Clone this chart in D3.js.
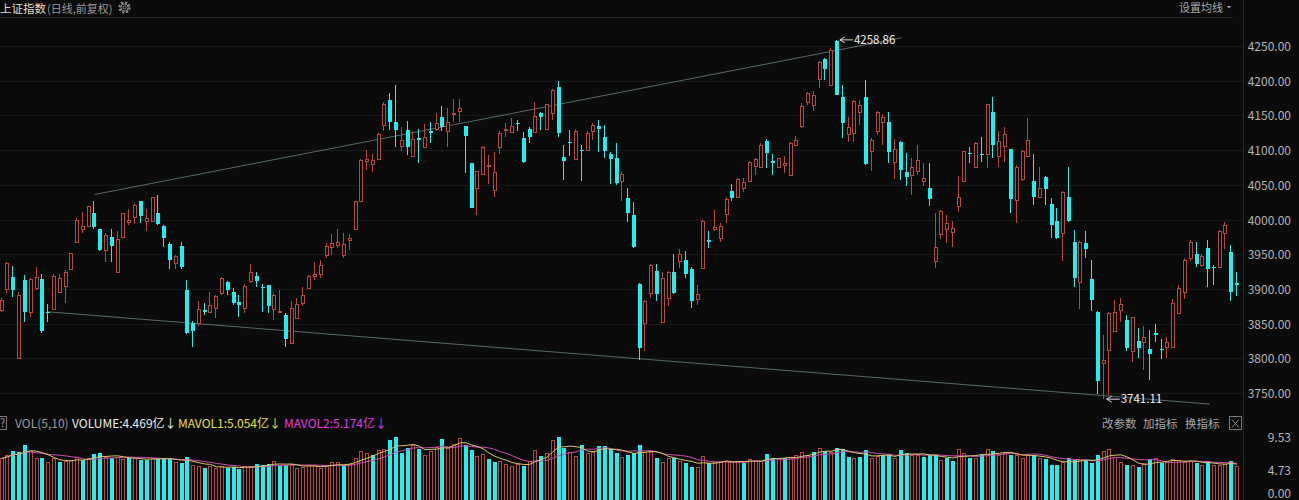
<!DOCTYPE html>
<html>
<head>
<meta charset="utf-8">
<script src="https://cdnjs.cloudflare.com/ajax/libs/d3/7.8.5/d3.min.js"></script>
<style>
	body { margin: 0; background: #0b0b0b; overflow: hidden; }
	svg { display: block; }
	text { font-family: "Noto Sans CJK SC", "Noto Sans", sans-serif; }
</style>
</head>
<body>
<svg id="chart" width="1299" height="500"></svg>
<script>
/**
 * Daily candles of the Shanghai index with volume panel
 */

// Daily prices, oldest first
var opens = [3870,3900,3917,3800,3913,3867,3901,3914,3867,3871,3896,3904,3929,3968,3987,3991,4010,3987,3956,3975,
	3924,3975,3996,4004,4026,3998,3998,4009,3991,3964,3938,3962,3899,3851,3851,3869,3867,3872,3894,3910,
	3895,3881,3872,3911,3918,3903,3905,3871,3866,3863,3822,3858,3879,3901,3918,3922,3949,3961,3963,3949,
	3971,3987,4027,4084,4080,4087,4136,4172,4140,4106,4129,4092,4118,4105,4128,4131,4147,4127,4152,4157,
	4135,4082,4045,4065,4077,4042,4105,4130,4126,4139,4118,4131,4126,4153,4131,4153,4191,4090,4112,4087,
	4100,4100,4127,4135,4119,4094,4088,4055,4031,4007,3907,3851,3894,3926,3853,3887,3925,3940,3942,3929,
	3885,3930,3970,3987,3973,4008,4041,4032,4046,4055,4077,4076,4113,4084,4076,4079,4064,4108,4135,4170,
	4165,4203,4231,4194,4257,4176,4123,4124,4155,4177,4098,4127,4140,4141,4083,4112,4069,4064,4070,4056,
	4046,3940,3979,3987,3982,4019,4055,4096,4076,4095,4095,4155,4091,4106,4101,4028,4058,4092,4056,4033,
	4061,4022,3998,3980,4033,3968,3910,3966,3914,3866,3793,3812,3840,3870,3855,3810,3825,3824,3813,3836,
	3814,3817,3817,3865,3896,3944,3951,3934,3959,3932,3931,3981,3953,3908];

var highs = [3887,3939,3933,3896,3920,3915,3932,3921,3878,3921,3921,3927,3952,4002,4011,4020,4027,3987,3980,3987,
	3983,4010,4015,4022,4027,4015,4033,4035,3992,3968,3949,3968,3913,3854,3882,3880,3896,3891,3917,3911,
	3902,3891,3907,3936,3924,3907,3906,3894,3898,3865,3882,3887,3903,3920,3939,3942,3966,3979,3986,3980,
	3979,4027,4087,4100,4095,4124,4170,4182,4194,4134,4142,4127,4131,4137,4141,4154,4163,4161,4174,4174,
	4135,4082,4070,4106,4093,4097,4127,4139,4146,4143,4126,4134,4170,4155,4167,4188,4200,4107,4129,4131,
	4107,4127,4139,4143,4136,4097,4110,4069,4045,4025,3908,3884,3936,3936,3924,3926,3951,3957,3954,3931,
	3905,3999,3983,4014,3995,4032,4051,4060,4060,4084,4089,4110,4116,4094,4089,4091,4111,4120,4168,4183,
	4185,4228,4233,4247,4258.86,4194,4148,4172,4172,4201,4118,4156,4152,4155,4116,4113,4096,4088,4108,4081,
	4081,4010,4014,4007,3998,4062,4099,4105,4112,4119,4167,4177,4127,4134,4101,4079,4100,4146,4095,4076,
	4063,4031,4017,4041,4076,3985,3969,3984,3942,3868,3833,3867,3884,3887,3863,3860,3844,3847,3841,3849,
	3828,3831,3886,3906,3945,3971,3968,3950,3971,3935,3985,3996,3963,3925];

var lows = [3867,3894,3889,3800,3852,3860,3899,3836,3852,3870,3896,3879,3929,3966,3980,3990,3987,3954,3939,3939,
	3924,3974,3992,3993,3995,3983,3997,3992,3961,3928,3928,3928,3835,3817,3846,3863,3866,3858,3891,3891,
	3877,3860,3865,3908,3903,3867,3865,3855,3865,3817,3821,3856,3875,3900,3913,3915,3945,3949,3959,3945,
	3956,3986,4026,4071,4069,4086,4127,4129,4105,4099,4093,4092,4082,4104,4110,4127,4127,4104,4141,4140,
	4067,4016,4006,4064,4051,4032,4095,4119,4124,4127,4082,4110,4124,4129,4130,4143,4119,4057,4092,4087,
	4055,4099,4115,4097,4089,4051,4050,4026,3997,3959,3798,3810,3887,3882,3852,3875,3892,3930,3915,3872,
	3877,3928,3959,3983,3968,3995,4026,4032,4040,4054,4064,4076,4074,4064,4074,4067,4063,4108,4132,4165,
	4156,4189,4201,4193,4179,4117,4111,4112,4136,4078,4070,4122,4108,4081,4058,4057,4048,4035,4064,4048,
	4019,3930,3972,3966,3960,4011,4054,4081,4075,4083,4074,4088,4076,4083,4009,3995,4055,4091,4021,4031,
	4021,3974,3972,3940,3997,3903,3871,3945,3868,3748,3741.11,3747,3839,3853,3811,3795,3801,3783,3769,3824,
	3799,3801,3815,3864,3886,3940,3932,3931,3903,3906,3930,3958,3882,3890];

var closes = [3884,3937,3899,3891,3866,3914,3917,3840,3866,3918,3916,3924,3952,3999,3990,4019,3989,3956,3978,3962,
	3972,4010,4000,4021,4005,4002,4032,3993,3974,3941,3948,3931,3836,3839,3871,3866,3877,3890,3915,3899,
	3879,3877,3904,3925,3911,3902,3876,3891,3868,3828,3872,3878,3891,3919,3922,3935,3962,3966,3967,3965,
	3973,4026,4086,4087,4086,4123,4167,4141,4129,4115,4104,4116,4114,4119,4125,4139,4134,4141,4153,4160,
	4120,4017,4070,4105,4079,4068,4125,4131,4135,4137,4083,4119,4149,4148,4166,4186,4125,4084,4111,4128,
	4099,4125,4136,4131,4098,4087,4052,4066,4009,3960,3815,3883,3934,3892,3915,3924,3894,3950,3921,3882,
	3892,3998,3968,3989,3991,4030,4031,4058,4054,4083,4087,4108,4096,4082,4088,4081,4110,4114,4163,4182,
	4180,4227,4217,4244,4180,4139,4134,4171,4165,4080,4115,4155,4148,4097,4101,4072,4061,4076,4086,4060,
	4030,3961,4012,3995,3988,4033,4098,4094,4110,4093,4166,4108,4113,4123,4030,4076,4098,4115,4032,4045,
	4044,3992,3973,4039,3998,3915,3968,3958,3884,3767,3798,3865,3867,3878,3815,3859,3815,3830,3806,3834,
	3812,3823,3879,3902,3942,3968,3936,3948,3929,3930,3983,3992,3896,3906];

// Daily volume, 亿
var volumes = [6.38,6.86,7.48,7.33,8.38,7.43,6.48,6.52,5.81,6.38,5.81,6.0,6.14,6.62,6.14,6.48,7.0,7.1,6.62,6.48,
	6.62,6.29,6.38,6.38,6.14,6.19,6.38,6.52,6.38,6.29,5.81,5.67,6.62,5.43,5.33,4.95,5.33,4.95,5.29,5.05,
	5.19,4.86,5.29,5.29,5.52,5.43,5.57,6.0,5.43,5.43,5.52,4.95,5.19,5.43,5.43,5.05,5.29,5.81,5.81,5.43,
	5.52,6.48,7.43,7.19,6.95,7.57,7.81,9.0,9.53,7.1,7.95,8.38,7.75,6.95,7.43,8.05,9.24,7.9,8.5,9.33,
	8.28,7.62,6.71,7.0,6.28,5.9,6.0,5.52,5.28,5.52,5.28,6.0,7.57,6.76,7.19,9.0,9.45,7.9,7.24,6.76,
	8.28,7.1,7.33,8.14,8.24,7.71,7.1,6.62,6.95,7.1,8.38,7.33,7.24,6.52,5.9,6.38,6.38,6.05,5.76,5.19,
	5.09,6.76,5.67,5.81,5.9,6.05,6.0,6.0,5.76,6.24,6.05,6.05,7.0,6.38,6.38,6.38,6.52,6.86,7.33,6.95,
	7.33,7.95,7.52,7.33,7.95,7.71,6.62,6.52,6.62,7.57,6.38,6.71,6.86,6.86,6.52,7.66,7.1,6.95,6.86,6.62,
	6.86,6.86,6.14,6.38,6.0,7.81,7.1,6.52,6.52,6.86,7.81,7.48,6.95,7.1,6.95,6.86,6.38,6.95,6.86,6.52,
	6.28,5.5,5.4,5.9,6.52,6.14,6.14,6.14,5.67,6.86,7.43,7.71,6.62,5.9,5.43,5.43,5.19,5.67,6.29,6.38,
	5.67,5.9,6.24,6.14,5.9,6.0,5.67,5.43,6.05,5.43,5.43,5.52,6.05,5.33];

// Axis ticks
var priceTicks = [3750, 3800, 3850, 3900, 3950, 4000, 4050, 4100, 4150, 4200, 4250];
var volTicks = [9.53, 4.73, 0];

// Hand drawn trend lines: [day index, price]
var upperTrend = [[16, 4036], [155.2, 4262]];
var lowerTrend = [[8, 3867], [208.3, 3734]];

// Header texts
var titleText = "上证指数";
var subtitleText = "(日线,前复权)";
var maButtonText = "设置均线";
var volHeader = [
	{ text: "VOL(5,10)", color: "#9a9a9a", x: 15 },
	{ text: "VOLUME:4.469亿↓", color: "#eeeeee", x: 72 },
	{ text: "MAVOL1:5.054亿↓", color: "#e6e23a", x: 178 },
	{ text: "MAVOL2:5.174亿↓", color: "#e23ee2", x: 284 }
];
var volButtons = [
	{ text: "改参数", x: 1102 },
	{ text: "加指标", x: 1143 },
	{ text: "换指标", x: 1185 }
];

var RED = "#b9473c";
var CYAN = "#22eeee";
var AXIS_TEXT = "#b4b4b4";
var LINE = "#262626";

var svg = d3.select("#chart");

var x = d3.scaleLinear()
	.domain([0, closes.length - 1])
	.range([1.7, 1.7 + (closes.length - 1) * 5.8]);
var y = d3.scaleLinear().domain([3750, 4250]).range([393, 46]);
var yv = d3.scaleLinear().domain([0, 9.53]).range([503, 436.5]);

var days = opens.map(function(o, i) {
	return { i: i, o: o, h: highs[i], l: lows[i], c: closes[i], v: volumes[i],
		prev: i > 0 ? closes[i - 1] : o };
});

// Frame lines
svg.append("line")
	.attr("x1", 0).attr("x2", 1233)
	.attr("y1", 17.5).attr("y2", 17.5)
	.attr("stroke", LINE);
svg.append("line")
	.attr("x1", 1243.5).attr("x2", 1243.5)
	.attr("y1", 0).attr("y2", 500)
	.attr("stroke", LINE);

// Price grid and labels
svg.append("g")
	.selectAll("line")
	.data(priceTicks)
	.enter().append("line")
	.attr("x1", 0).attr("x2", 1243)
	.attr("y1", function(d) { return Math.round(y(d)) + 0.5; })
	.attr("y2", function(d) { return Math.round(y(d)) + 0.5; })
	.attr("stroke", "#191919");

svg.append("g")
	.selectAll("text")
	.data(priceTicks)
	.enter().append("text")
	.attr("x", 1291)
	.attr("y", function(d) { return y(d) + 5; })
	.attr("text-anchor", "end")
	.attr("font-size", 12)
	.attr("fill", AXIS_TEXT)
	.text(d3.format(".2f"));

// Trend lines
var trendLine = d3.line()
	.x(function(d) { return x(d[0]); })
	.y(function(d) { return y(d[1]); });

[upperTrend, lowerTrend].forEach(function(t) {
	svg.append("path")
		.attr("d", trendLine(t))
		.attr("fill", "none")
		.attr("stroke", "#86aaa2")
		.attr("stroke-opacity", 0.75)
		.attr("stroke-width", 0.8);
});

// Candles
var candles = svg.append("g").attr("shape-rendering", "crispEdges");

days.forEach(function(d) {
	var up = d.c >= d.o;
	var col = up ? RED : CYAN;
	var left = Math.round(x(d.i)) - 2;
	var wx = left + 1.5;
	var top = Math.round(y(Math.max(d.o, d.c)));
	var bot = Math.round(y(Math.min(d.o, d.c)));
	var hi = Math.round(y(d.h));
	var lo = Math.round(y(d.l));

	if (up) {
		candles.append("line")
			.attr("x1", wx).attr("x2", wx)
			.attr("y1", hi).attr("y2", top)
			.attr("stroke", col);
		candles.append("line")
			.attr("x1", wx).attr("x2", wx)
			.attr("y1", bot + 1).attr("y2", lo)
			.attr("stroke", col);
		candles.append("rect")
			.attr("x", left + 0.5)
			.attr("y", top + 0.5)
			.attr("width", 3)
			.attr("height", Math.max(1, bot - top))
			.attr("fill", "#0b0b0b")
			.attr("stroke", col);
	} else {
		candles.append("line")
			.attr("x1", wx).attr("x2", wx)
			.attr("y1", hi).attr("y2", lo)
			.attr("stroke", col);
		candles.append("rect")
			.attr("x", left)
			.attr("y", top)
			.attr("width", 4)
			.attr("height", Math.max(1, bot - top))
			.attr("fill", col);
	}
});

// Highest and lowest marks
function markPrice(idx, value) {
	var px = x(idx) + 3;
	var py = y(value);
	var g = svg.append("g");
	g.append("path")
		.attr("d", "M" + (px + 5) + "," + (py - 3) + "L" + px + "," + py + "L" + (px + 5) + "," + (py + 3)
			+ "M" + px + "," + py + "H" + (px + 13))
		.attr("fill", "none")
		.attr("stroke", "#d8d8d8")
		.attr("stroke-width", 1);
	g.append("text")
		.attr("x", px + 14)
		.attr("y", py + 4)
		.attr("font-size", 11.5)
		.attr("fill", "#f0f0f0")
		.text(d3.format(".2f")(value));
}

var maxIdx = d3.maxIndex(highs);
var minIdx = d3.minIndex(lows);
markPrice(maxIdx, highs[maxIdx]);
markPrice(minIdx, lows[minIdx]);

// Volume bars
var vols = svg.append("g").attr("shape-rendering", "crispEdges");

days.forEach(function(d) {
	var up = d.c >= d.prev;
	var left = Math.round(x(d.i)) - 2;
	var top = Math.round(yv(d.v));
	if (up) {
		vols.append("rect")
			.attr("x", left + 0.5)
			.attr("y", top + 0.5)
			.attr("width", 3)
			.attr("height", 500 - top)
			.attr("fill", "none")
			.attr("stroke", RED);
	} else {
		vols.append("rect")
			.attr("x", left)
			.attr("y", top)
			.attr("width", 4)
			.attr("height", 500 - top)
			.attr("fill", CYAN);
	}
});

// Volume moving averages
function movingAverage(n) {
	return volumes.map(function(v, i) {
		return d3.mean(volumes.slice(Math.max(0, i - n + 1), i + 1));
	});
}

var maLine = d3.line()
	.x(function(d, i) { return x(i); })
	.y(function(d) { return yv(d); });

svg.append("path")
	.attr("d", maLine(movingAverage(10)))
	.attr("fill", "none")
	.attr("stroke", "#d24ab4")
	.attr("stroke-width", 1);
svg.append("path")
	.attr("d", maLine(movingAverage(5)))
	.attr("fill", "none")
	.attr("stroke", "#d8c86a")
	.attr("stroke-width", 1);

// Volume axis labels
svg.append("g")
	.selectAll("text")
	.data(volTicks)
	.enter().append("text")
	.attr("x", 1291)
	.attr("y", function(d) { return Math.min(yv(d) + 5, 498); })
	.attr("text-anchor", "end")
	.attr("font-size", 12)
	.attr("fill", AXIS_TEXT)
	.text(d3.format(".2f"));

// Top header
svg.append("text")
	.attr("x", 0).attr("y", 13)
	.attr("font-size", 11.5)
	.attr("fill", "#e6dfc8")
	.text(titleText);
svg.append("text")
	.attr("x", 47).attr("y", 13)
	.attr("font-size", 11)
	.attr("fill", "#9a9a9a")
	.text(subtitleText);

var gear = svg.append("g").attr("transform", "translate(124.5,7.5)");
gear.append("circle")
	.attr("r", 5)
	.attr("fill", "none")
	.attr("stroke", "#8a8a8a")
	.attr("stroke-width", 2.2)
	.attr("stroke-dasharray", "2.2,1.7");
gear.append("circle")
	.attr("r", 3.6)
	.attr("fill", "none")
	.attr("stroke", "#8a8a8a")
	.attr("stroke-width", 1);
gear.append("circle")
	.attr("r", 1.6)
	.attr("fill", "none")
	.attr("stroke", "#8a8a8a")
	.attr("stroke-width", 1);

svg.append("text")
	.attr("x", 1179).attr("y", 12)
	.attr("font-size", 11)
	.attr("fill", "#a8a8a8")
	.text(maButtonText);
svg.append("path")
	.attr("d", "M1227,6h4l-2,2.5z")
	.attr("fill", "#a8a8a8");

// Volume header
svg.append("rect")
	.attr("x", -2.5).attr("y", 416.5)
	.attr("width", 9).attr("height", 13)
	.attr("fill", "none")
	.attr("stroke", "#7a7a7a");
svg.append("text")
	.attr("x", 0).attr("y", 427)
	.attr("font-size", 11)
	.attr("fill", "#9a9a9a")
	.text("?");

svg.append("g")
	.selectAll("text")
	.data(volHeader)
	.enter().append("text")
	.attr("x", function(d) { return d.x; })
	.attr("y", 427.5)
	.attr("font-size", 12)
	.attr("fill", function(d) { return d.color; })
	.text(function(d) { return d.text; });

svg.append("g")
	.selectAll("text")
	.data(volButtons)
	.enter().append("text")
	.attr("x", function(d) { return d.x; })
	.attr("y", 428)
	.attr("font-size", 11.5)
	.attr("fill", "#a8a8a8")
	.text(function(d) { return d.text; });

svg.append("rect")
	.attr("x", 1229.5).attr("y", 416.5)
	.attr("width", 12).attr("height", 13)
	.attr("fill", "none")
	.attr("stroke", "#7a7a7a");
svg.append("path")
	.attr("d", "M1232,419.5l7,8M1239,419.5l-7,8")
	.attr("stroke", "#8a8a8a")
	.attr("stroke-width", 1);
</script>
</body>
</html>
